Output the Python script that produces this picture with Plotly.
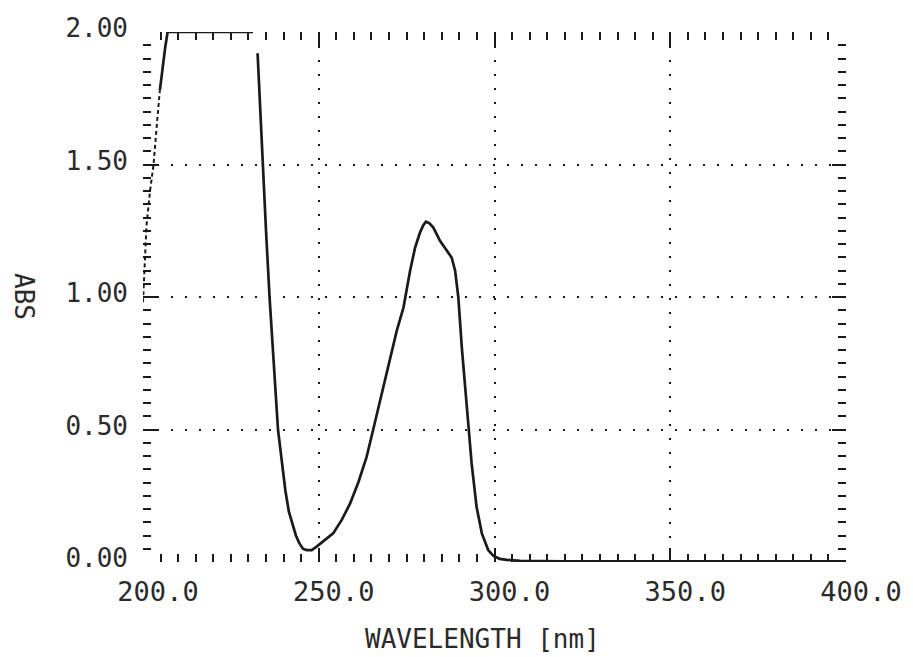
import plotly.graph_objects as go

# --- data ---
# rising edge near 200 nm (printed as a broken/dashed trace)
edge_wavelength = [200.0, 200.5, 201.0, 202.0, 203.0, 204.0, 204.8]
edge_abs = [0.98, 1.12, 1.27, 1.40, 1.50, 1.66, 1.78]

# main spectrum (None = pen lifted, off-scale region)
wavelength = [204.8, 205.5, 206.3, 207.0, 231.3, None,
              232.6, 233.3, 234.0, 235.0, 236.0, 237.2, 238.4, 239.5, 240.5,
              241.5, 242.5, 243.5, 244.5, 245.5, 246.5, 248.0, 249.4, 251.5,
              254.1, 256.5, 258.9, 261.3, 263.6, 265.5, 268.4, 270.3, 272.2,
              274.1, 276.0, 277.4, 278.8, 279.7, 280.5, 281.5, 282.6, 284.5,
              286.4, 287.8, 288.8, 289.7, 290.7, 291.6, 292.6, 293.5, 294.9,
              296.4, 298.2, 299.7, 301.5, 303.5, 307.3, 320.0, 350.0, 400.0]
absorbance = [1.78, 1.86, 1.94, 2.00, 2.00, None,
              1.92, 1.71, 1.50, 1.25, 1.00, 0.75, 0.50, 0.38, 0.27,
              0.19, 0.14, 0.10, 0.07, 0.05, 0.045, 0.045, 0.058, 0.08,
              0.108, 0.158, 0.22, 0.302, 0.396, 0.50, 0.66, 0.77, 0.873,
              0.96, 1.10, 1.186, 1.243, 1.27, 1.284, 1.278, 1.262, 1.212,
              1.174, 1.149, 1.099, 1.00, 0.81, 0.66, 0.50, 0.371, 0.208,
              0.108, 0.045, 0.023, 0.012, 0.008, 0.004, 0.002, 0.002, 0.002]

x_ticks = [200, 250, 300, 350, 400]
y_ticks = [0.0, 0.5, 1.0, 1.5, 2.0]

FONT = "DejaVu Sans Mono"
INK = "#1a1a1a"
TEXT = "#2a2a2a"

fig = go.Figure()
fig.add_trace(go.Scatter(x=edge_wavelength, y=edge_abs, mode="lines",
                         line=dict(color=INK, width=2, dash="4px,3px"),
                         showlegend=False, hoverinfo="skip"))
fig.add_trace(go.Scatter(x=wavelength, y=absorbance, mode="lines",
                         connectgaps=False,
                         line=dict(color=INK, width=2.7),
                         showlegend=False))

fig.update_xaxes(
    range=[200, 400], tickvals=x_ticks, tickformat=".1f",
    showline=False, zeroline=False, mirror="allticks",
    ticks="inside", ticklen=14, tickwidth=2, tickcolor=INK,
    minor=dict(ticks="inside", dtick=5, ticklen=8, tickwidth=2,
               tickcolor=INK, showgrid=False),
    showgrid=True, gridcolor=INK, gridwidth=1.6, griddash="2px,12px",
    tickfont=dict(family=FONT, size=27, color=TEXT),
    ticklabelstandoff=11, ticklabelshift=15,
)
fig.update_yaxes(
    range=[0, 2], tickvals=y_ticks, tickformat=".2f",
    showline=False, zeroline=False, mirror="allticks",
    ticks="inside", ticklen=14, tickwidth=2, tickcolor=INK,
    minor=dict(ticks="inside", dtick=0.05, ticklen=8, tickwidth=2,
               tickcolor=INK, showgrid=False),
    showgrid=True, gridcolor=INK, gridwidth=1.6, griddash="2px,12px",
    tickfont=dict(family=FONT, size=26, color=TEXT),
    ticklabelstandoff=14, ticklabelshift=-4,
)

fig.add_annotation(text="WAVELENGTH [nm]", xref="paper", yref="paper",
                   x=0.4836, y=-0.1453, xanchor="center", yanchor="middle",
                   showarrow=False, font=dict(family=FONT, size=26, color=TEXT))
fig.add_annotation(text="ABS", xref="paper", yref="paper",
                   x=-0.1693, y=0.5, xanchor="center", yanchor="middle",
                   textangle=90, showarrow=False,
                   font=dict(family=FONT, size=26, color=TEXT))

fig.update_layout(
    width=913, height=657,
    margin=dict(l=143, r=67, t=32, b=95),
    paper_bgcolor="white", plot_bgcolor="white",
    showlegend=False,
)

# remove the browser's default 8px body margin so the figure fills the window
fig.write_html("out.html", config={"displayModeBar": False},
               post_script="document.body.style.margin='0px';")
